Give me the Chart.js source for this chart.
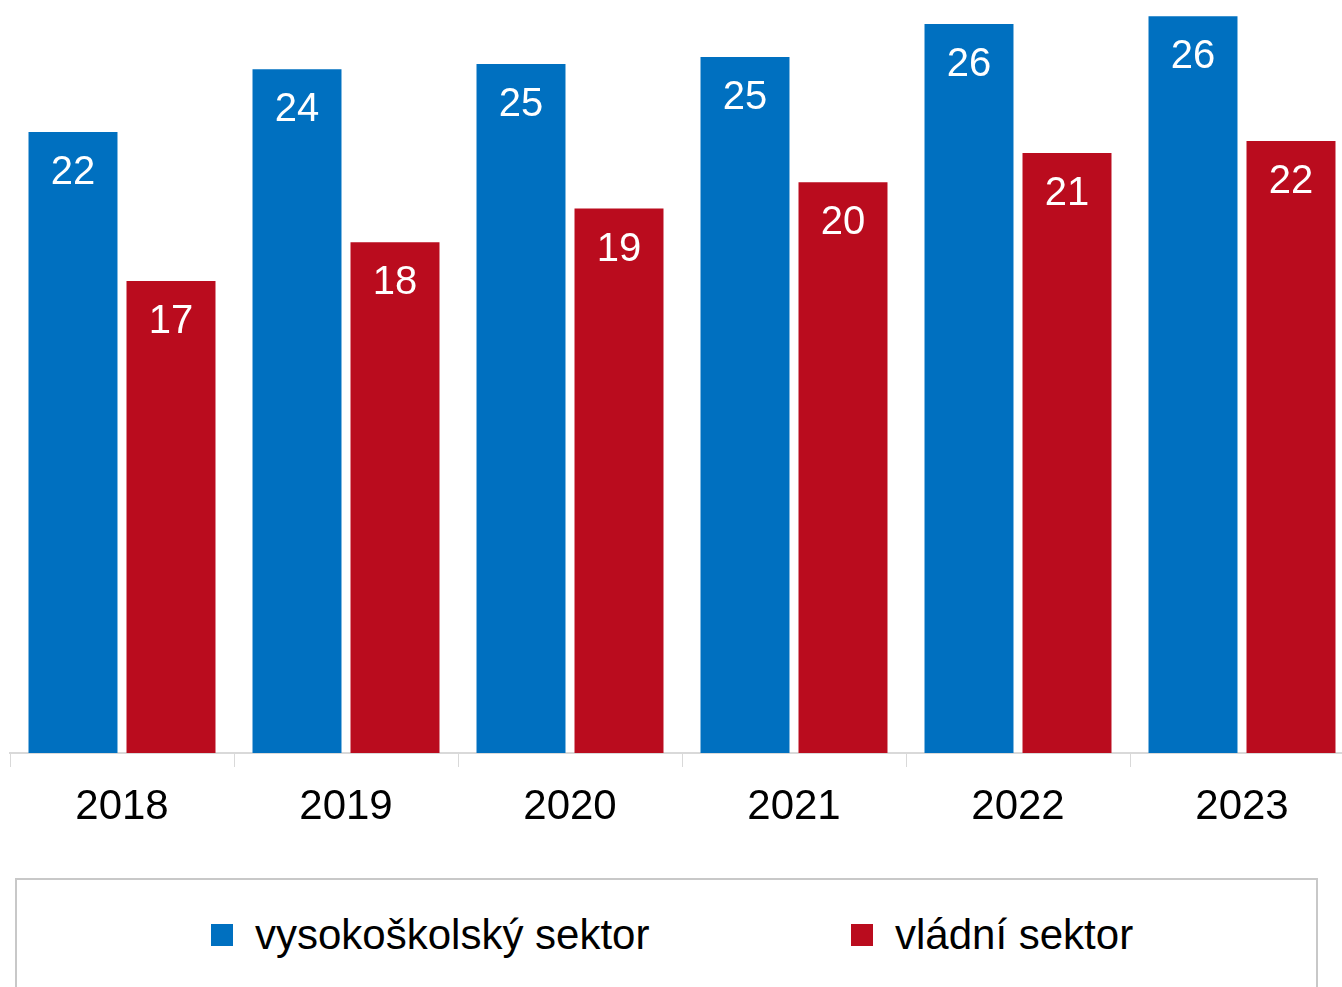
<!DOCTYPE html>
<html lang="cs">
<head>
<meta charset="utf-8">
<title>Sektory</title>
<script src="https://cdn.jsdelivr.net/npm/chart.js@4.4.1/dist/chart.umd.min.js"></script>
<style>
    html, body {
        margin: 0;
        padding: 0;
        background: #fff;
        overflow: hidden;
    }
    #wrap {
        position: relative;
        width: 1356px;
        height: 987px;
        font-family: 'Liberation Sans', Arial, sans-serif;
    }
    #chartBox {
        position: absolute;
        left: 0;
        top: 0;
        width: 1356px;
        height: 830px;
    }
    #legendBox {
        position: absolute;
        left: 15px;
        top: 878px;
        width: 1303px;
        height: 160px;
        border: 2px solid #c8c8c8;
        box-sizing: border-box;
    }
    .legend-item {
        position: absolute;
        top: 30px;
        display: flex;
        align-items: center;
        font-size: 42px;
        color: #000;
        line-height: 50px;
        white-space: nowrap;
    }
    .legend-item span.swatch {
        display: inline-block;
        width: 22px;
        height: 22px;
        margin-right: 22px;
    }
</style>
</head>
<body>
<div id="wrap">
    <div id="chartBox"><canvas id="barChart"></canvas></div>
    <div id="legendBox"></div>
</div>
<script>
const years = ['2018', '2019', '2020', '2021', '2022', '2023'];
const universityValues = [22.18, 24.43, 24.61, 24.86, 26.04, 26.32];
const governmentValues = [16.86, 18.25, 19.45, 20.39, 21.43, 21.86];
const seriesNames = ['vysokoškolský sektor', 'vládní sektor'];

const BLUE = '#0070c0';
const RED = '#ba0c1e';
const FONT = "'Liberation Sans', Arial, sans-serif";

// hodnoty zaokrouhlene do sloupcu
const valueLabels = {
    id: 'valueLabels',
    afterDatasetsDraw(chart) {
        const ctx = chart.ctx;
        ctx.save();
        ctx.fillStyle = '#fff';
        ctx.font = '40px ' + FONT;
        ctx.textAlign = 'center';
        ctx.textBaseline = 'middle';
        chart.data.datasets.forEach((ds, i) => {
            chart.getDatasetMeta(i).data.forEach((bar, j) => {
                ctx.fillText(Math.round(ds.data[j]).toString(), bar.x, bar.y + 41);
            });
        });
        ctx.restore();
    }
};

const chart = new Chart(document.getElementById('barChart').getContext('2d'), {
    type: 'bar',
    data: {
        labels: years,
        datasets: [
            { label: seriesNames[0], data: universityValues, backgroundColor: BLUE },
            { label: seriesNames[1], data: governmentValues, backgroundColor: RED }
        ]
    },
    options: {
        responsive: true,
        maintainAspectRatio: false,
        animation: false,
        barPercentage: 0.908,
        categoryPercentage: 0.875,
        layout: { padding: { left: 10, right: 2, top: 0, bottom: 0 } },
        plugins: {
            legend: { display: false },
            tooltip: { enabled: false }
        },
        scales: {
            x: {
                grid: {
                    display: true,
                    drawOnChartArea: false,
                    drawTicks: true,
                    tickLength: 14,
                    color: '#d9d9d9',
                    offset: true
                },
                border: { display: true, color: '#d9d9d9', width: 2 },
                ticks: {
                    color: '#000',
                    padding: 15,
                    font: { size: 42, family: FONT }
                },
                afterFit: scale => { scale.height = 77; }
            },
            y: {
                display: false,
                min: 0,
                max: 26.9
            }
        }
    },
    plugins: [valueLabels]
});

// legenda v ramecku pod grafem
const legendBox = document.getElementById('legendBox');
const legendLeft = [194, 834];
chart.data.datasets.forEach((ds, i) => {
    const item = document.createElement('div');
    item.className = 'legend-item';
    item.style.left = legendLeft[i] + 'px';
    const swatch = document.createElement('span');
    swatch.className = 'swatch';
    swatch.style.background = ds.backgroundColor;
    item.appendChild(swatch);
    item.appendChild(document.createTextNode(ds.label));
    legendBox.appendChild(item);
});
</script>
</body>
</html>
